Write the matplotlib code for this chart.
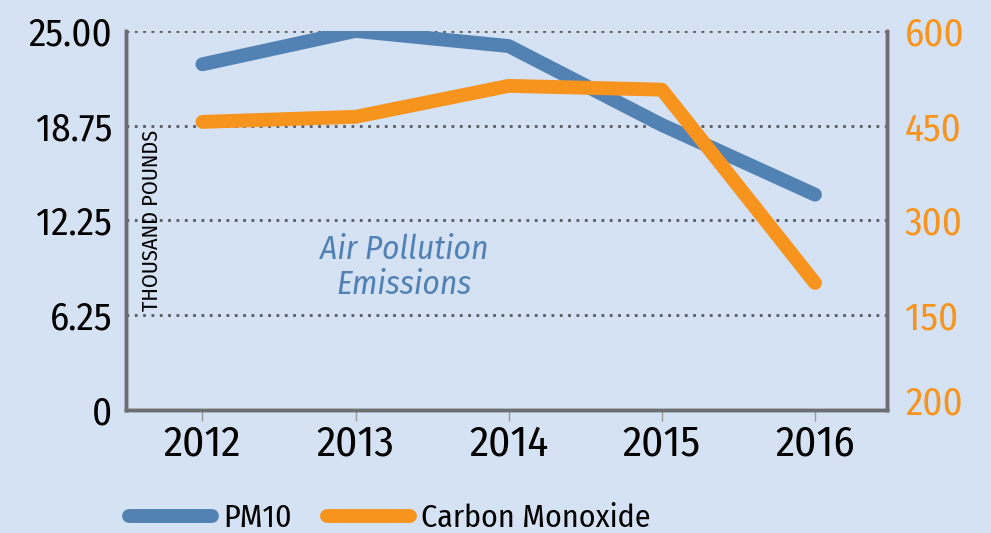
import matplotlib
matplotlib.use("Agg")
import matplotlib.pyplot as plt
import matplotlib.transforms as mtransforms
from matplotlib import font_manager

years = [2012, 2013, 2014, 2015, 2016]
pm10 = [22.8, 25.0, 24.0, 18.8, 14.2]
carbon_monoxide = [456, 464, 513, 507, 201]

left_ticks = [0, 6.25, 12.5, 18.75, 25]
left_labels = ["0", "6.25", "12.25", "18.75", "25.00"]
right_ticks = [0, 150, 300, 450, 600]
right_labels = ["200", "150", "300", "450", "600"]

# pick a condensed sans if one is installed, like the original's narrow type
names = {f.name for f in font_manager.fontManager.ttflist}
wanted = ["Fira Sans Condensed", "Roboto Condensed", "PT Sans Narrow",
          "Open Sans Condensed", "Liberation Sans Narrow", "Liberation Sans"]
fam = next((n for n in wanted if n in names), "DejaVu Sans")
plt.rcParams["font.family"] = [fam, "DejaVu Sans"]

bg = "#d5e2f3"
blue = "#5282b4"
orange = "#f7941e"
spine_c = "#6d6e71"

fig = plt.figure(figsize=(9.91, 5.33), dpi=100, facecolor=bg)
ax = fig.add_axes([0.127, 0.231, 0.768, 0.711], facecolor=bg)
ax2 = ax.twinx()

ax.plot(years, pm10, color=blue, lw=10, solid_capstyle="round", solid_joinstyle="round", label="PM10")
ax2.plot(years, carbon_monoxide, color=orange, lw=10, solid_capstyle="round", solid_joinstyle="round",
         label="Carbon Monoxide")

ax.set_xlim(2011.5, 2016.47)
ax.set_ylim(0, 25)
ax2.set_ylim(0, 600)
ax.set_xticks(years)
ax.set_xticklabels([str(y) for y in years], fontsize=31)
ax.set_yticks(left_ticks)
ax.set_yticklabels(left_labels, fontsize=28)
ax2.set_yticks(right_ticks)
ax2.set_yticklabels(right_labels, fontsize=28, color=orange)

ax.tick_params(axis="y", length=0, pad=10)
ax2.tick_params(axis="y", length=0, pad=13)
ax.tick_params(axis="x", length=8, width=1, color="#999999", pad=2)

# the bottom right label sits a little above the axis line in the original
lab = ax2.yaxis.get_major_ticks()[0].label2
lab.set_transform(lab.get_transform() + mtransforms.ScaledTranslation(0, 10 / 100, fig.dpi_scale_trans))

ax.set_axisbelow(True)
ax.grid(axis="y", linestyle=(0, (1, 2)), color="#5a5a5e", lw=2)

for a in (ax, ax2):
    a.spines["top"].set_visible(False)
    for s in ("left", "right", "bottom"):
        a.spines[s].set_color(spine_c)
        a.spines[s].set_linewidth(2.5)

ax.text(0.034, 0.50, "THOUSAND POUNDS", transform=ax.transAxes, rotation=90,
        fontsize=16, ha="center", va="center")
ax.text(0.366, 0.376, "Air Pollution\nEmissions", transform=ax.transAxes, color=blue,
        fontsize=24, style="italic", ha="center", va="center", linespacing=1.1)

h1, l1 = ax.get_legend_handles_labels()
h2, l2 = ax2.get_legend_handles_labels()
fig.legend(h1 + h2, l1 + l2, loc="center left", bbox_to_anchor=(0.117, 0.028),
           frameon=False, fontsize=23, handlelength=2.6, handletextpad=0.35,
           columnspacing=1.1, ncol=2, borderaxespad=0)

fig.savefig("out.png", dpi=100, facecolor=bg)
